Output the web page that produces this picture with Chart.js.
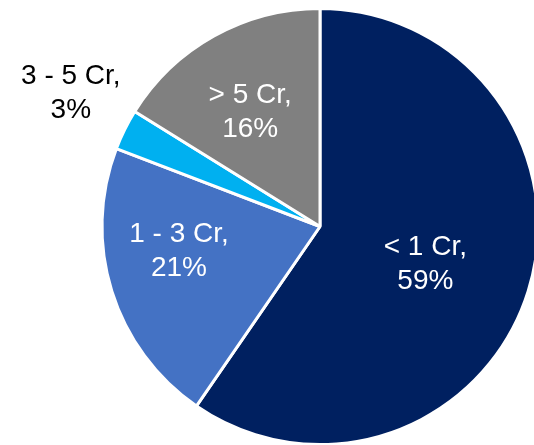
<!DOCTYPE html>
<html>
<head>
<meta charset="utf-8">
<script src="https://cdn.jsdelivr.net/npm/chart.js@4/dist/chart.umd.min.js"></script>
<style>
  html, body { margin: 0; padding: 0; background: #fff; }
  #wrap { width: 534px; height: 445px; }
</style>
</head>
<body>
<div id="wrap"><canvas id="myChart"></canvas></div>
<script>
var categories = ['< 1 Cr', '1 - 3 Cr', '3 - 5 Cr', '> 5 Cr'];
var shares = [59, 21, 3, 16];
var sliceColors = ['#002060', '#4472C4', '#00B0F0', '#808080'];

// label placement: fraction of outer radius, angle nudge (deg), text colour
var labelStyle = [
  { r: 0.51, turn: 1.4, color: '#ffffff' },
  { r: 0.655, turn: 8.2, color: '#ffffff' },
  { r: 1.30, turn: 2.1, color: '#000000' },
  { r: 0.62, turn: -2.0, color: '#ffffff' }
];

const sliceLabels = {
  id: 'sliceLabels',
  afterDatasetsDraw(chart) {
    const ctx = chart.ctx;
    const meta = chart.getDatasetMeta(0);
    ctx.save();
    ctx.font = '28px "Liberation Sans", Arial, sans-serif';
    ctx.textAlign = 'center';
    ctx.textBaseline = 'middle';
    meta.data.forEach((arc, i) => {
      const p = arc.getProps(['x', 'y', 'startAngle', 'endAngle', 'outerRadius'], true);
      const mid = (p.startAngle + p.endAngle) / 2 + labelStyle[i].turn * Math.PI / 180;
      const r = p.outerRadius * labelStyle[i].r;
      const x = p.x + Math.cos(mid) * r;
      const y = p.y + Math.sin(mid) * r;
      ctx.fillStyle = labelStyle[i].color;
      ctx.fillText(categories[i] + ',', x, y - 15);
      ctx.fillText(shares[i] + '%', x, y + 19);
    });
    ctx.restore();
  }
};

var ctx = document.getElementById('myChart');

const cfg = {
  type: 'pie',
  data: {
    labels: categories,
    datasets: [{
      data: shares,
      backgroundColor: sliceColors,
      borderColor: '#ffffff',
      borderWidth: 3,
      radius: 218
    }]
  },
  options: {
    responsive: true,
    maintainAspectRatio: false,
    animation: false,
    layout: { padding: { left: 106, right: 0, top: 8, bottom: 0 } },
    plugins: {
      legend: { display: false },
      tooltip: { enabled: false }
    }
  },
  plugins: [sliceLabels]
};

new Chart(ctx, cfg);
</script>
</body>
</html>
